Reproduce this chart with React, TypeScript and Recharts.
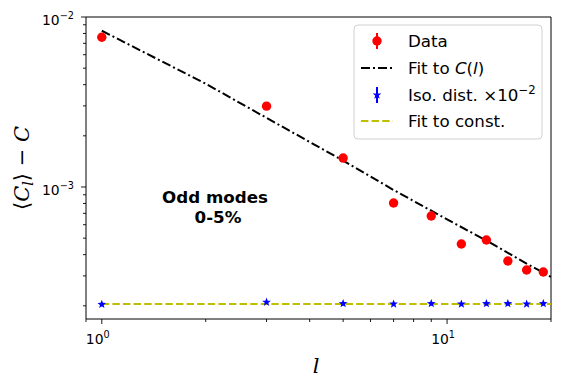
import React from "react";
import {
  ComposedChart,
  Line,
  Scatter,
  XAxis,
  YAxis,
  ErrorBar,
  ReferenceArea,
  Customized,
} from "recharts";

// odd multipoles
const oddL = [1, 3, 5, 7, 9, 11, 13, 15, 17, 19];
const dataVals = [7.6e-3, 2.99e-3, 1.48e-3, 8.05e-4, 6.75e-4, 4.62e-4, 4.88e-4, 3.67e-4, 3.25e-4, 3.16e-4];
const dataErr = [1.2e-4, 5e-5, 2.5e-5, 1.4e-5, 1.1e-5, 8e-6, 8e-6, 6e-6, 5e-6, 5e-6];
const isoVals = [2.04e-4, 2.1e-4, 2.06e-4, 2.05e-4, 2.06e-4, 2.05e-4, 2.06e-4, 2.06e-4, 2.05e-4, 2.06e-4];
const isoErr = [5e-6, 5e-6, 5e-6, 5e-6, 5e-6, 5e-6, 5e-6, 5e-6, 5e-6, 5e-6];

// fitted curves
const fitL = [1, 2, 3, 5, 7, 10, 13, 17, 20];
const fitVals = [8.3e-3, 4.05e-3, 2.55e-3, 1.43e-3, 9.6e-4, 6.45e-4, 4.84e-4, 3.54e-4, 2.96e-4];
const constL = [1, 20];
const constVals = [2.05e-4, 2.05e-4];

const xTicks = [0.9, 1, 2, 3, 4, 5, 6, 7, 8, 9, 10, 20];
const yTicks = [
  2e-4, 3e-4, 4e-4, 5e-4, 6e-4, 7e-4, 8e-4, 9e-4,
  1e-3, 2e-3, 3e-3, 4e-3, 5e-3, 6e-3, 7e-3, 8e-3, 9e-3, 1e-2,
];
const xDomain = [0.9, 20];
const yDomain = [1.673e-4, 1e-2];

const dataPts = oddL.map((l, i) => ({ l, v: dataVals[i], e: dataErr[i] }));
const isoPts = oddL.map((l, i) => ({ l, v: isoVals[i], e: isoErr[i] }));
const fitPts = fitL.map((l, i) => ({ l, v: fitVals[i] }));
const constPts = constL.map((l, i) => ({ l, v: constVals[i] }));

const FONT = "DejaVu Sans";
const SERIF = "DejaVu Serif";

function decade(v: number) {
  const lg = Math.log10(v);
  const r = Math.round(lg);
  return Math.abs(lg - r) < 1e-6 ? r : null;
}

function expText(n: number) {
  return n < 0 ? `\u2212${-n}` : `${n}`;
}

function XTick({ x, y, payload }: any) {
  const exp = decade(payload.value);
  const major = exp !== null;
  return (
    <g>
      <line x1={x} x2={x} y1={y} y2={y + (major ? 5 : 3)} stroke="#000" strokeWidth={0.9} />
      {major && (
        <text x={x - 4} y={y + 25} textAnchor="middle" fontFamily={FONT} fontSize={13.9} fill="#000">
          10
          <tspan fontSize={9.7} dy={-6}>{expText(exp)}</tspan>
        </text>
      )}
    </g>
  );
}

function YTick({ x, y, payload }: any) {
  const exp = decade(payload.value);
  const major = exp !== null;
  return (
    <g>
      <line x1={x} x2={x - (major ? 5 : 3)} y1={y} y2={y} stroke="#000" strokeWidth={0.9} />
      {major && (
        <text x={x - 12} y={y + 8} textAnchor="end" fontFamily={FONT} fontSize={13.9} fill="#000">
          10
          <tspan fontSize={9.7} dy={-6}>{expText(exp)}</tspan>
        </text>
      )}
    </g>
  );
}

function starPath(cx: number, cy: number, ro: number, ri: number) {
  const pts: string[] = [];
  for (let k = 0; k < 10; k++) {
    const a = -Math.PI / 2 + (k * Math.PI) / 5;
    const r = k % 2 === 0 ? ro : ri;
    pts.push(`${cx + r * Math.cos(a)},${cy + r * Math.sin(a)}`);
  }
  return pts.join(" ");
}

const RedDot = (p: any) => <circle cx={p.cx} cy={p.cy} r={4.7} fill="#ff0000" />;
const BlueStar = (p: any) => <polygon points={starPath(p.cx, p.cy, 4.6, 1.9)} fill="#0000ff" />;

function Overlay() {
  const lx = 354;
  const ly = 25;
  const rows = [41, 68, 95, 121];
  const mx = 377;
  return (
    <g>
      {/* annotation */}
      <text x={215} y={203} textAnchor="middle" fontFamily={FONT} fontWeight="bold" fontSize={16.7} fill="#000">
        Odd modes
      </text>
      <text x={218} y={223} textAnchor="middle" fontFamily={FONT} fontWeight="bold" fontSize={16.7} fill="#000">
        0-5%
      </text>

      {/* axis labels */}
      <text x={316} y={373} textAnchor="middle" fontFamily={SERIF} fontStyle="italic" fontSize={21} fill="#000">
        l
      </text>
      <g transform="translate(22,168) rotate(-90)">
        <text x={0} y={7} textAnchor="middle" fontFamily={SERIF} fontSize={21} fill="#000">
          {"\u27e8"}
          <tspan fontStyle="italic">C</tspan>
          <tspan fontStyle="italic" fontSize={14} dy={4}>l</tspan>
          <tspan dy={-4}>{"\u27e9 \u2212 "}</tspan>
          <tspan fontStyle="italic">C</tspan>
        </text>
      </g>

      {/* legend */}
      <rect x={lx} y={ly} width={188} height={114} rx={4} fill="#fff" fillOpacity={0.8} stroke="#d0d0d0" strokeWidth={1} />
      <line x1={mx} x2={mx} y1={rows[0] - 8} y2={rows[0] + 8} stroke="#ff0000" strokeWidth={2} />
      <circle cx={mx} cy={rows[0]} r={4.7} fill="#ff0000" />
      <line x1={361} x2={393} y1={rows[1]} y2={rows[1]} stroke="#000" strokeWidth={2} strokeDasharray="9 3 2 3" />
      <line x1={mx} x2={mx} y1={rows[2] - 8} y2={rows[2] + 8} stroke="#0000ff" strokeWidth={2} />
      <polygon points={starPath(mx, rows[2], 4.6, 1.9)} fill="#0000ff" />
      <line x1={361} x2={393} y1={rows[3]} y2={rows[3]} stroke="#bfbf00" strokeWidth={2} strokeDasharray="7.4 3.2" />
      <g fontFamily={FONT} fontSize={16.7} fill="#000">
        <text x={408} y={rows[0] + 6}>Data</text>
        <text x={408} y={rows[1] + 6}>
          Fit to <tspan fontStyle="italic">C</tspan>(<tspan fontStyle="italic">l</tspan>)
        </text>
        <text x={408} y={rows[2] + 6}>
          Iso. dist. {"\u00d7"}10
          <tspan fontSize={11.7} dy={-7}>{"\u22122"}</tspan>
        </text>
        <text x={408} y={rows[3] + 6}>Fit to const.</text>
      </g>
    </g>
  );
}

export default function App() {
  return (
    <div style={{ position: "absolute", left: 0, top: 0, background: "#fff" }}>
      <ComposedChart width={564} height={387} margin={{ top: 17, right: 13, bottom: 0, left: 0 }}>
        <XAxis
          dataKey="l"
          type="number"
          scale="log"
          domain={xDomain}
          allowDataOverflow
          ticks={xTicks}
          interval={0}
          tick={<XTick />}
          tickLine={false}
          axisLine={false}
          tickSize={0}
          tickMargin={0}
          height={68}
        />
        <YAxis
          dataKey="v"
          type="number"
          scale="log"
          domain={yDomain}
          allowDataOverflow
          ticks={yTicks}
          interval={0}
          tick={<YTick />}
          tickLine={false}
          axisLine={false}
          tickSize={0}
          tickMargin={0}
          width={86}
        />
        <ReferenceArea
          x1={xDomain[0]}
          x2={xDomain[1]}
          y1={yDomain[0]}
          y2={yDomain[1]}
          fill="none"
          stroke="#000"
          strokeWidth={1}
          fillOpacity={0}
        />
        <Scatter data={dataPts} shape={RedDot} isAnimationActive={false}>
          <ErrorBar dataKey="e" direction="y" width={0} stroke="#ff0000" strokeWidth={1.5} />
        </Scatter>
        <Line
          data={fitPts}
          dataKey="v"
          type="linear"
          stroke="#000"
          strokeWidth={2}
          strokeDasharray="9 3 2 3"
          dot={false}
          isAnimationActive={false}
        />
        <Line
          data={constPts}
          dataKey="v"
          type="linear"
          stroke="#bfbf00"
          strokeWidth={2}
          strokeDasharray="7.4 3.2"
          dot={false}
          isAnimationActive={false}
        />
        <Scatter data={isoPts} shape={BlueStar} isAnimationActive={false}>
          <ErrorBar dataKey="e" direction="y" width={0} stroke="#0000ff" strokeWidth={1.5} />
        </Scatter>
        <Customized component={<Overlay />} />
      </ComposedChart>
    </div>
  );
}
